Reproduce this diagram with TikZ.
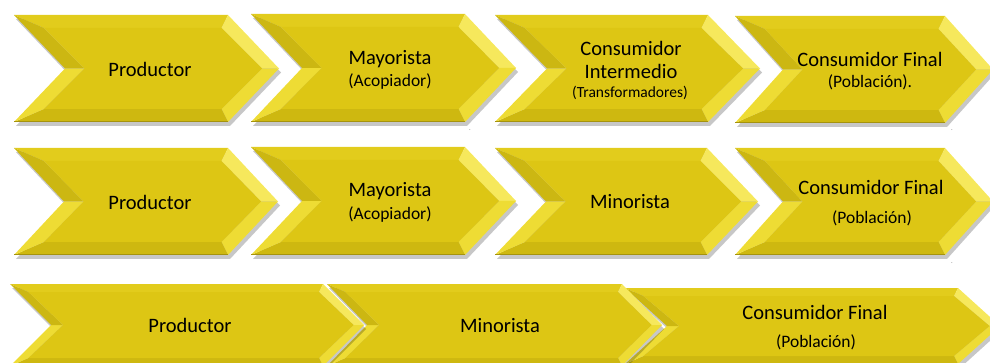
\documentclass[tikz,border=0pt]{standalone}
\usepackage{fontspec}
\setmainfont{Carlito}
\usepackage{tikz}
\usetikzlibrary{positioning}

\definecolor{chevbody}{RGB}{221,198,20}
\definecolor{chevtop}{RGB}{226,204,28}
\definecolor{chevbot}{RGB}{206,184,16}
\definecolor{chevlight}{RGB}{246,232,92}
\definecolor{chevbright}{RGB}{238,220,52}
\definecolor{chevdark}{RGB}{204,183,18}

\tikzset{
  maintxt/.style={font=\fontsize{20.5}{24}\selectfont, inner sep=0pt},
  subtxt/.style={font=\fontsize{17.5}{20}\selectfont, inner sep=0pt},
  smalltxt/.style={font=\fontsize{15.5}{18}\selectfont, inner sep=0pt},
  chevshadow/.style={fill=black, opacity=0.22}
}

% #1 left, #2 top, #3 bottom, #4 right of body, #5 tip depth, #6 bevel
\newcommand{\chevron}[6]{%
  \pgfmathsetmacro\chevmid{(#2+#3)/2}
  % shadow
  \fill[chevshadow] (#1+2,#2+4) -- (#4+2,#2+4) -- (#4+#5+2,\chevmid+4) -- (#4+2,#3+4)
    -- (#1+2,#3+4) -- (#1+#5+2,\chevmid+4) -- cycle;
  % facets
  \fill[chevtop] (#1,#2) -- (#4,#2) -- (#4-0.5*#6,#2+#6) -- (#1+2.3*#6,#2+#6) -- cycle;
  \fill[chevlight] (#4,#2) -- (#4+#5,\chevmid) -- (#4+#5-1.3*#6,\chevmid) -- (#4-0.5*#6,#2+#6) -- cycle;
  \fill[chevbright] (#4+#5,\chevmid) -- (#4,#3) -- (#4-0.5*#6,#3-#6) -- (#4+#5-1.3*#6,\chevmid) -- cycle;
  \fill[chevbot] (#4,#3) -- (#1,#3) -- (#1+2.3*#6,#3-#6) -- (#4-0.5*#6,#3-#6) -- cycle;
  \fill[chevbright] (#1,#3) -- (#1+#5,\chevmid) -- (#1+#5+1.5*#6,\chevmid) -- (#1+2.3*#6,#3-#6) -- cycle;
  \fill[chevdark] (#1+#5,\chevmid) -- (#1,#2) -- (#1+2.3*#6,#2+#6) -- (#1+#5+1.5*#6,\chevmid) -- cycle;
  % body
  \fill[chevbody] (#1+2.3*#6,#2+#6) -- (#4-0.5*#6,#2+#6) -- (#4+#5-1.3*#6,\chevmid)
    -- (#4-0.5*#6,#3-#6) -- (#1+2.3*#6,#3-#6) -- (#1+#5+1.5*#6,\chevmid) -- cycle;
  % thin edge at the bottom
  \draw[chevbot!80!black, line width=1pt] (#1,#3) -- (#4,#3);
}

\begin{document}
\begin{tikzpicture}[x=1pt, y=-1pt]
    \useasboundingbox (0,0) rectangle (990,363);
    \clip (0,0) rectangle (990,363);

    % Row 1
    \chevron{14}{15}{122}{228}{51}{13}
    \chevron{251}{14}{122}{465}{51}{13}
    \chevron{495}{15}{122}{708}{52}{13}
    \chevron{735}{16}{123}{945}{48}{13}
    \node[maintxt] (prodA) at (150,69) {Productor};
    \node[maintxt] (mayA) at (390,59) {Mayorista};
    \node[subtxt] (acopA) at (390,82) {(Acopiador)};
    \node[maintxt] (consA) at (631,48) {Consumidor};
    \node[maintxt] (interA) at (631,71) {Intermedio};
    \node[smalltxt] (transA) at (630,93) {(Transformadores)};
    \node[maintxt] (finA) at (870,59) {Consumidor Final};
    \node[subtxt] (poblA) at (870,82) {(Población).};

    % Row 2
    \chevron{14}{148}{255}{228}{50}{13}
    \chevron{251}{147}{255}{465}{51}{13}
    \chevron{495}{148}{255}{707}{51}{13}
    \chevron{735}{148}{255}{945}{48}{13}
    \node[maintxt] (prodB) at (150,202) {Productor};
    \node[maintxt] (mayB) at (390,191) {Mayorista};
    \node[subtxt] (acopB) at (390,215) {(Acopiador)};
    \node[maintxt] (minB) at (630,202) {Minorista};
    \node[maintxt] (finB) at (871,187) {Consumidor Final};
    \node[subtxt] (poblB) at (872,218) {(Población)};

    % Row 3, drawn right to left
    \chevron{625}{288}{364}{958}{42}{8}
    \chevron{327}{284}{366}{622}{40}{8}
    \chevron{10}{284}{366}{323}{41}{8}
    \node[maintxt] (prodC) at (190,325) {Productor};
    \node[maintxt] (minC) at (500,326) {Minorista};
    \node[maintxt] (finC) at (815,312) {Consumidor Final};
    \node[subtxt] (poblC) at (816,342) {(Población)};

    % stray marks
    \node[font=\tiny, inner sep=0pt] (dotA) at (470,130) {.};
    \node[font=\tiny, inner sep=0pt] (dotB) at (952,130) {.};
    \node[font=\tiny, inner sep=0pt] (dotC) at (952,263) {.};
\end{tikzpicture}
\end{document}
